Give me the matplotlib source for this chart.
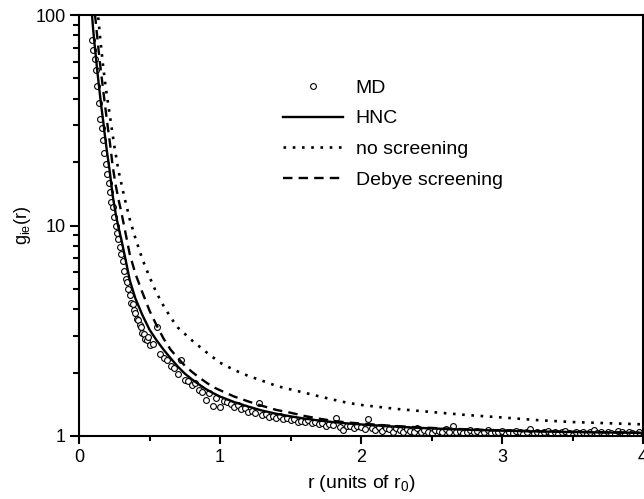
import matplotlib
matplotlib.use('Agg')
import matplotlib.pyplot as plt
from matplotlib.lines import Line2D
from matplotlib.ticker import FixedLocator, FuncFormatter, NullFormatter, MultipleLocator

plt.rcParams['font.family'] = ['Liberation Sans', 'DejaVu Sans']
plt.rcParams['mathtext.default'] = 'regular'

# ---------------- data ----------------
r_hnc = [0.09, 0.10, 0.11, 0.12, 0.13, 0.14, 0.15, 0.16, 0.17, 0.18, 0.19, 0.20,
         0.21, 0.22, 0.23, 0.24, 0.26, 0.28, 0.30, 0.33, 0.36, 0.40, 0.45, 0.50,
         0.55, 0.60, 0.65, 0.70, 0.75, 0.80, 0.85, 0.90, 0.95, 1.00, 1.10, 1.20,
         1.30, 1.40, 1.50, 1.60, 1.70, 1.80, 1.90, 2.00, 2.20, 2.40, 2.60, 2.80,
         3.00, 3.20, 3.40, 3.60, 3.80, 4.00]
g_hnc = [105, 86, 73, 63, 54, 47, 41, 36, 32, 28, 24.8, 22,
         19.8, 17.6, 15.5, 13.7, 11.4, 9.8, 8.6, 6.9, 5.5, 4.5, 3.75, 3.2,
         2.85, 2.57, 2.34, 2.14, 1.98, 1.86, 1.76, 1.67, 1.60, 1.54, 1.45, 1.38,
         1.32, 1.275, 1.24, 1.21, 1.185, 1.165, 1.148, 1.135, 1.112, 1.094, 1.080, 1.069,
         1.060, 1.053, 1.047, 1.042, 1.038, 1.035]

r_debye = [0.10, 0.11, 0.12, 0.13, 0.14, 0.15, 0.16, 0.18, 0.20, 0.22, 0.24, 0.26,
           0.28, 0.30, 0.33, 0.36, 0.40, 0.45, 0.50, 0.55, 0.60, 0.65, 0.70, 0.75,
           0.80, 0.85, 0.90, 0.95, 1.00, 1.10, 1.20, 1.30, 1.40, 1.50, 1.60, 1.70,
           1.80, 1.90, 2.00, 2.20, 2.40, 2.60, 2.80, 3.00, 3.20, 3.40, 3.60, 3.80, 4.00]
g_debye = [125, 106, 91, 78, 67, 58, 51, 39.5, 30.8, 24.5, 18.9, 15.6,
           13.3, 11.6, 9.2, 7.3, 5.9, 4.8, 3.94, 3.36, 2.90, 2.57, 2.35, 2.16,
           2.02, 1.90, 1.80, 1.71, 1.65, 1.54, 1.46, 1.39, 1.33, 1.29, 1.245, 1.21,
           1.18, 1.16, 1.146, 1.12, 1.10, 1.085, 1.073, 1.064, 1.056, 1.05, 1.045, 1.041, 1.037]

r_noscr = [0.12, 0.135, 0.15, 0.17, 0.19, 0.21, 0.25, 0.28, 0.32, 0.36, 0.40, 0.45,
           0.50, 0.55, 0.60, 0.65, 0.70, 0.80, 0.90, 1.00, 1.10, 1.20, 1.30, 1.40,
           1.50, 1.60, 1.70, 1.80, 1.90, 2.00, 2.25, 2.50, 2.75, 3.00, 3.25, 3.50,
           3.75, 4.00]
g_noscr = [135, 100, 78, 58, 45, 36.5, 24, 18.2, 13.8, 10.7, 8.7, 6.9,
           5.7, 4.78, 4.15, 3.66, 3.28, 2.85, 2.51, 2.23, 2.06, 1.93, 1.83, 1.73,
           1.665, 1.605, 1.545, 1.49, 1.44, 1.405, 1.345, 1.30, 1.258, 1.225, 1.19, 1.165,
           1.15, 1.136]

r_md = [0.09, 0.10, 0.11, 0.12, 0.13, 0.14, 0.15, 0.16, 0.17, 0.18, 0.19, 0.20,
        0.21, 0.22, 0.23, 0.24, 0.25, 0.26, 0.27, 0.28, 0.29, 0.30, 0.31, 0.32,
        0.33, 0.34, 0.35, 0.36, 0.37, 0.38, 0.39, 0.40, 0.41, 0.42, 0.43, 0.44,
        0.45, 0.46, 0.47, 0.48, 0.49, 0.50,
        0.525, 0.55, 0.575, 0.60, 0.625, 0.65, 0.675, 0.70, 0.725, 0.75, 0.775, 0.80,
        0.825, 0.85, 0.875, 0.90, 0.925, 0.95, 0.975, 1.00, 1.025, 1.05, 1.075, 1.10,
        1.125, 1.15, 1.175, 1.20, 1.225, 1.25, 1.275, 1.30, 1.325, 1.35, 1.375, 1.40,
        1.425, 1.45, 1.475, 1.50, 1.525, 1.55, 1.575, 1.60, 1.625, 1.65, 1.675, 1.70,
        1.725, 1.75, 1.775, 1.80, 1.825, 1.85, 1.875, 1.90, 1.925, 1.95, 1.975, 2.00,
        2.025, 2.05, 2.075, 2.10, 2.125, 2.15, 2.175, 2.20, 2.225, 2.25, 2.275, 2.30,
        2.325, 2.35, 2.375, 2.40, 2.425, 2.45, 2.475, 2.50, 2.525, 2.55, 2.575, 2.60,
        2.625, 2.65, 2.675, 2.70, 2.725, 2.75, 2.775, 2.80, 2.825, 2.85, 2.875, 2.90,
        2.925, 2.95, 2.975, 3.00, 3.025, 3.05, 3.075, 3.10, 3.125, 3.15, 3.175, 3.20,
        3.225, 3.25, 3.275, 3.30, 3.325, 3.35, 3.375, 3.40, 3.425, 3.45, 3.475, 3.50,
        3.525, 3.55, 3.575, 3.60, 3.625, 3.65, 3.675, 3.70, 3.725, 3.75, 3.775, 3.80,
        3.825, 3.85, 3.875, 3.90, 3.925, 3.95, 3.975]
g_md = [76, 68, 62, 55, 46, 38, 32, 29, 25.5, 22, 19.5, 17.5,
        16.0, 14.5, 13.0, 12.2, 11.0, 9.9, 9.2, 8.6, 7.9, 7.3, 6.8, 6.1,
        5.6, 5.4, 5.0, 4.7, 4.3, 4.25, 3.95, 3.85, 3.6, 3.55, 3.35, 3.3,
        3.1, 3.05, 2.9, 2.85, 2.95, 2.7,
        2.75, 3.3, 2.45, 2.35, 2.30, 2.15, 2.10, 1.98, 2.30, 1.85, 1.82, 1.75,
        1.78, 1.66, 1.62, 1.48, 1.60, 1.39, 1.52, 1.38, 1.47, 1.45, 1.42, 1.38,
        1.40, 1.35, 1.36, 1.30, 1.31, 1.28, 1.44, 1.26, 1.27, 1.23, 1.25, 1.22,
        1.24, 1.20, 1.22, 1.19, 1.20, 1.17, 1.18, 1.16, 1.19, 1.15, 1.16, 1.14,
        1.15, 1.12, 1.14, 1.13, 1.22, 1.10, 1.07, 1.12, 1.11, 1.09, 1.12, 1.10,
        1.08, 1.20, 1.09, 1.07, 1.10, 1.06, 1.09, 1.08, 1.05, 1.09, 1.07, 1.04,
        1.08, 1.06, 1.05, 1.09, 1.04, 1.07, 1.05, 1.03, 1.07, 1.06, 1.04, 1.08,
        1.05, 1.11, 1.04, 1.06, 1.03, 1.05, 1.07, 1.04, 1.06, 1.02, 1.05, 1.07,
        1.03, 1.05, 1.04, 1.06, 1.02, 1.05, 1.03, 1.06, 1.04, 1.02, 1.05, 1.08,
        1.03, 1.05, 1.02, 1.04, 1.06, 1.03, 1.05, 1.02, 1.04, 1.06, 1.03, 1.01,
        1.05, 1.03, 1.04, 1.02, 1.05, 1.07, 1.03, 1.04, 1.01, 1.05, 1.03, 1.02,
        1.06, 1.04, 1.02, 1.05, 1.03, 1.01, 1.04]

labels = ['MD', 'HNC', 'no screening', 'Debye screening']
x_ticks = [0, 1, 2, 3, 4]
y_ticks = [1, 10, 100]

# ---------------- figure ----------------
fig = plt.figure(figsize=(6.44, 4.99), dpi=100)
ax = fig.add_axes([79 / 644, 63 / 499, 564 / 644, 421 / 499])

lw = 1.7
ax.plot(r_md, g_md, linestyle='none', marker='o', markersize=4.2,
        markerfacecolor='white', markeredgecolor='black', markeredgewidth=0.8,
        zorder=2, clip_on=True)
ax.plot(r_hnc, g_hnc, color='black', lw=lw, zorder=3)
ax.plot(r_noscr, g_noscr, color='black', lw=1.9, linestyle=(0, (1, 2.5)),
        dash_capstyle='butt', zorder=3)
ax.plot(r_debye, g_debye, color='black', lw=lw, linestyle=(0, (4.0, 2.6)),
        zorder=3)

ax.set_yscale('log')
ax.set_xlim(0, 4)
ax.set_ylim(1, 100)

ax.xaxis.set_major_locator(FixedLocator(x_ticks))
ax.xaxis.set_minor_locator(MultipleLocator(0.5))
ax.xaxis.set_major_formatter(FuncFormatter(lambda v, p: '%d' % round(v)))

ax.yaxis.set_major_locator(FixedLocator(y_ticks))
ax.yaxis.set_minor_locator(FixedLocator([k * 10 ** e for e in (0, 1) for k in range(2, 10)]))
ax.yaxis.set_major_formatter(FuncFormatter(lambda v, p: '%d' % round(v)))
ax.yaxis.set_minor_formatter(NullFormatter())

for s in ax.spines.values():
    s.set_linewidth(1.5)

ax.tick_params(axis='both', which='both', direction='out', top=False, right=False,
               width=1.5, labelsize=13, colors='black')
ax.tick_params(axis='y', which='major', length=6.5, pad=3)
ax.tick_params(axis='y', which='minor', length=4.3)
ax.tick_params(axis='x', which='major', length=5.5, pad=4)
ax.tick_params(axis='x', which='minor', length=3.5)

ax.set_xlabel('r (units of r$_0$)', fontsize=14, labelpad=5)
ax.set_ylabel('g$_{ie}$(r)', fontsize=13, labelpad=2)

handles = [
    Line2D([], [], linestyle='none', marker='o', markersize=4.2,
           markerfacecolor='white', markeredgecolor='black', markeredgewidth=0.8),
    Line2D([], [], color='black', lw=lw),
    Line2D([], [], color='black', lw=1.9, linestyle=(0, (1, 2.5)), dash_capstyle='butt'),
    Line2D([], [], color='black', lw=lw, linestyle=(0, (4.0, 2.6))),
]
ax.legend(handles, labels, loc='upper left', bbox_to_anchor=(0.362, 0.848),
          frameon=False, fontsize=14, handlelength=3.1, handletextpad=0.62,
          labelspacing=0.68, borderpad=0, borderaxespad=0)

fig.savefig('out.png', dpi=100)
